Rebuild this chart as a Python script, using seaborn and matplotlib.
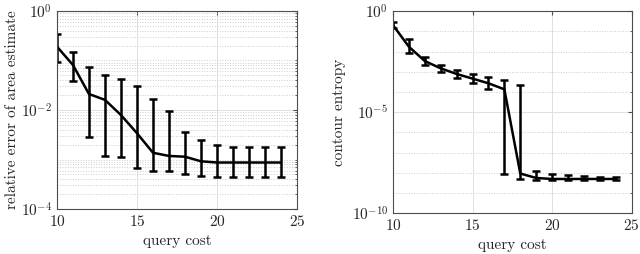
import numpy as np
import pandas as pd
import matplotlib
matplotlib.use("Agg")
import matplotlib.pyplot as plt
import matplotlib.ticker as mticker
import seaborn as sns

# query cost on the x axis (shared)
cost = [10, 11, 12, 13, 14, 15, 16, 17, 18, 19, 20, 21, 22, 23, 24]

# left panel: relative error of area estimate
area_mid = [0.19, 0.081, 0.021, 0.016, 0.0079, 0.0034, 0.00137, 0.00118, 0.00114,
            0.00092, 0.00087, 0.00087, 0.00087, 0.00087, 0.00087]
area_hi = [0.35, 0.146, 0.073, 0.050, 0.043, 0.030, 0.017, 0.0094, 0.0036,
           0.0025, 0.0020, 0.0018, 0.0018, 0.0018, 0.0018]
area_lo = [0.095, 0.039, 0.0029, 0.00118, 0.00114, 0.00068, 0.00058, 0.00058, 0.00051,
           0.00047, 0.00045, 0.00045, 0.00045, 0.00045, 0.00045]

# right panel: contour entropy (log10 values)
ent_mid_log = [-0.69, -1.76, -2.47, -2.83, -3.11, -3.34, -3.57, -3.87, -8.04,
               -8.26, -8.31, -8.31, -8.31, -8.31, -8.31]
ent_hi_log = [-0.56, -1.38, -2.29, -2.66, -2.93, -3.13, -3.24, -3.40, -3.65,
              -7.93, -8.04, -8.11, -8.14, -8.21, -8.21]
ent_lo_log = [-0.81, -2.09, -2.65, -3.01, -3.31, -3.57, -3.87, -8.04, -8.29,
              -8.34, -8.36, -8.36, -8.36, -8.36, -8.36]

sns.set_style("white")
plt.rcParams["font.family"] = ["cmr10", "DejaVu Serif"]
plt.rcParams["mathtext.fontset"] = "cm"
plt.rcParams["axes.formatter.use_mathtext"] = True
plt.rcParams["font.size"] = 11

fig = plt.figure(figsize=(6.4, 2.54), dpi=100)
ax1 = fig.add_axes([0.089, 0.177, 0.375, 0.78])
ax2 = fig.add_axes([0.614, 0.161, 0.373, 0.795])


def style_axis(ax):
    for s in ax.spines.values():
        s.set_color("#4d4d4d")
        s.set_linewidth(0.8)
    ax.tick_params(direction="in", which="both", top=True, right=True,
                   color="#4d4d4d", labelsize=11, length=3)
    ax.tick_params(which="minor", length=1.5)
    ax.grid(True, which="major", color="#e0e0e0", linewidth=0.7)
    ax.set_axisbelow(True)


# left panel
df1 = pd.DataFrame({"cost": cost, "mid": area_mid})
sns.lineplot(data=df1, x="cost", y="mid", color="black", linewidth=1.8, ax=ax1)
mid = np.array(area_mid)
ax1.errorbar(cost, mid, yerr=[mid - np.array(area_lo), np.array(area_hi) - mid],
             fmt="none", ecolor="black", elinewidth=1.8, capsize=3, capthick=1.8)
ax1.set_yscale("log")
ax1.set_xlim(10, 25)
ax1.set_ylim(1e-4, 1)
ax1.set_xticks([10, 15, 20, 25])
ax1.yaxis.set_major_locator(mticker.FixedLocator([1e-4, 1e-2, 1]))
ax1.yaxis.set_minor_locator(mticker.LogLocator(base=10, subs=np.arange(1, 10), numticks=20))
ax1.yaxis.set_minor_formatter(mticker.NullFormatter())
style_axis(ax1)
ax1.grid(True, which="minor", axis="y", color="#cccccc", linestyle=":", linewidth=0.7)
ax1.set_xlabel("query cost")
ax1.set_ylabel("relative error of area estimate", labelpad=1)

# right panel
df2 = pd.DataFrame({"cost": cost, "mid": 10 ** np.array(ent_mid_log)})
sns.lineplot(data=df2, x="cost", y="mid", color="black", linewidth=1.8, ax=ax2)
emid = 10 ** np.array(ent_mid_log)
ehi = 10 ** np.array(ent_hi_log)
elo = 10 ** np.array(ent_lo_log)
ax2.errorbar(cost, emid, yerr=[emid - elo, ehi - emid],
             fmt="none", ecolor="black", elinewidth=1.8, capsize=3, capthick=1.8)
ax2.set_yscale("log")
ax2.set_xlim(10, 25)
ax2.set_ylim(1e-10, 1)
ax2.set_xticks([10, 15, 20, 25])
ax2.yaxis.set_major_locator(mticker.FixedLocator([1e-10, 1e-5, 1]))
ax2.yaxis.set_minor_locator(mticker.FixedLocator([10.0 ** k for k in range(-9, 0)]))
ax2.yaxis.set_minor_formatter(mticker.NullFormatter())
style_axis(ax2)
ax2.grid(True, which="minor", axis="y", color="#cccccc", linestyle=":", linewidth=0.7)
ax2.set_xlabel("query cost")
ax2.set_ylabel("contour entropy")

fig.savefig("out.png", dpi=100)
